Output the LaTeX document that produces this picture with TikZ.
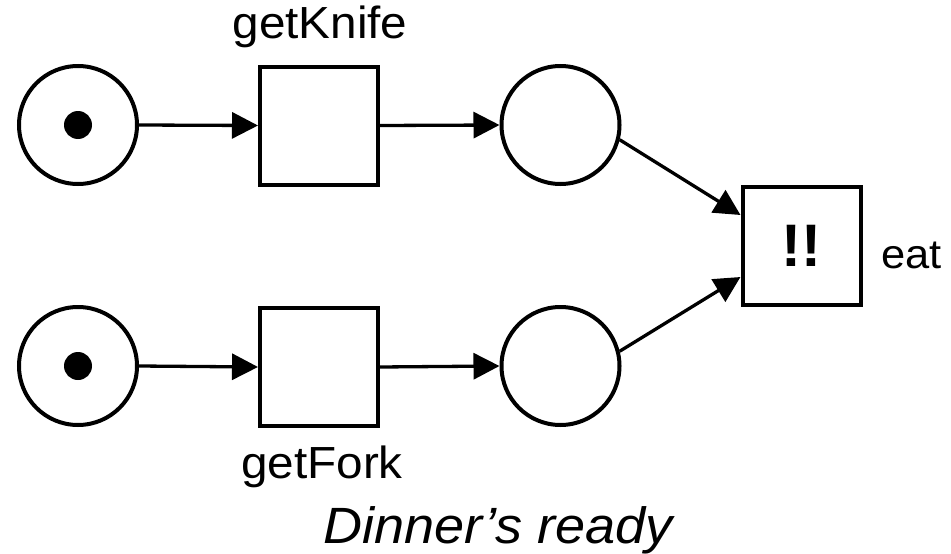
\documentclass[tikz,border=0pt]{standalone}
\usepackage{fontspec}
\setmainfont{Liberation Sans}
\newfontfamily\labelfont[FakeStretch=1.06]{Liberation Sans}
\usetikzlibrary{arrows.meta}
\begin{document}
\begin{tikzpicture}[x=1pt,y=-1pt,
  place/.style={circle,draw,line width=4pt,minimum size=118pt,inner sep=0pt},
  trans/.style={rectangle,draw,line width=4pt,minimum size=118pt,inner sep=0pt},
  token/.style={circle,fill,minimum size=28pt,inner sep=0pt},
  arc/.style={line width=3.3pt,-{Triangle[length=26pt,width=26pt]}},
  lbl/.style={font=\labelfont\fontsize{45}{54}\selectfont,anchor=base,inner sep=0pt}]
  \useasboundingbox (0,0) rectangle (951,554);

  % places and transitions
  \node[place] (p1) at (78,125) {};
  \node[token] (k1) at (p1) {};
  \node[trans] (t1) at (319,125.5) {};
  \node[place] (p2) at (560.5,125) {};
  \node[trans] (eat) at (801.5,246) {\fontsize{60}{62}\selectfont\bfseries !!};
  \node[place] (p3) at (78,366) {};
  \node[token] (k3) at (p3) {};
  \node[trans] (t2) at (319,367) {};
  \node[place] (p4) at (560.5,366) {};

  % labels
  \node[lbl] (lk) at (320,38) {getKnife};
  \node[lbl] (lf) at (322,478) {getFork};
  \node[lbl,anchor=base west,font=\labelfont\fontsize{41}{50}\selectfont] (le) at (881,268) {eat};
  \node[lbl,font=\labelfont\fontsize{51}{60}\selectfont\itshape] (ld) at (498,543) {Dinner’s ready};

  % arcs
  \draw[arc] (p1.east) -- (t1.west);
  \draw[arc] (t1.east) -- (p2.west);
  \draw[arc] (p3.east) -- (t2.west);
  \draw[arc] (t2.east) -- (p4.west);
  \draw[arc] (p2.-14) -- ([yshift=31pt]eat.west);
  \draw[arc] (p4.14) -- ([yshift=-31pt]eat.west);
\end{tikzpicture}
\end{document}
